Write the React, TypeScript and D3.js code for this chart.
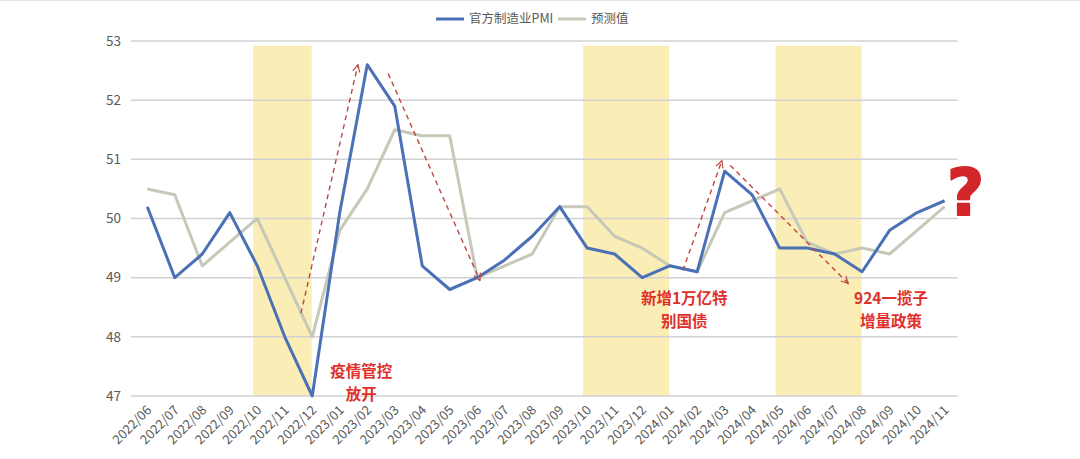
import React from "react";
import * as d3 from "d3";

const categories = [
  "2022/06", "2022/07", "2022/08", "2022/09", "2022/10", "2022/11", "2022/12",
  "2023/01", "2023/02", "2023/03", "2023/04", "2023/05", "2023/06", "2023/07",
  "2023/08", "2023/09", "2023/10", "2023/11", "2023/12", "2024/01", "2024/02",
  "2024/03", "2024/04", "2024/05", "2024/06", "2024/07", "2024/08", "2024/09",
  "2024/10", "2024/11",
];

// 官方制造业PMI
const pmi = [
  50.2, 49.0, 49.4, 50.1, 49.2, 48.0, 47.0,
  50.1, 52.6, 51.9, 49.2, 48.8, 49.0, 49.3,
  49.7, 50.2, 49.5, 49.4, 49.0, 49.2, 49.1,
  50.8, 50.4, 49.5, 49.5, 49.4, 49.1, 49.8,
  50.1, 50.3,
];

// 预测值
const forecast = [
  50.5, 50.4, 49.2, 49.6, 50.0, 49.0, 48.0,
  49.8, 50.5, 51.5, 51.4, 51.4, 49.0, 49.2,
  49.4, 50.2, 50.2, 49.7, 49.5, 49.2, 49.1,
  50.1, 50.3, 50.5, 49.6, 49.4, 49.5, 49.4,
  49.8, 50.2,
];

const yTicks = [47, 48, 49, 50, 51, 52, 53];

// highlighted periods (start month, end month)
const bandStarts = ["2022/10", "2023/10", "2024/05"];
const bandEnds = ["2022/12", "2024/01", "2024/08"];

// dashed trend arrows, in (month index, value)
const arrowFrom: [number, number][] = [[5.59, 48.4], [8.76, 52.45], [19.48, 49.12], [21.2, 50.9]];
const arrowTo: [number, number][] = [[7.66, 52.6], [12.1, 48.95], [20.9, 50.98], [25.5, 48.9]];

// red notes
const noteText = [["疫情管控", "放开"], ["新增1万亿特", "别国债"], ["924一揽子", "增量政策"]];
const noteAt: [number, number][] = [[7.78, 47.32], [19.53, 48.55], [27.05, 48.55]];

const seriesNames = ["官方制造业PMI", "预测值"];
const seriesColors = ["#4a70b6", "#c7c9b8"];

const W = 1080;
const H = 459;
const font = "'Noto Sans CJK SC', 'Noto Sans', sans-serif";

export default function App() {
  const x = d3.scalePoint<string>().domain(categories).range([147.3, 944.6]);
  const xi = d3.scaleLinear().domain([0, categories.length - 1]).range([147.3, 944.6]);
  const y = d3.scaleLinear().domain([47, 53]).range([396, 41]);
  const step = x.step();
  const gridLeft = x(categories[0])! - step * 0.6;
  const gridRight = x(categories[categories.length - 1])! + step * 0.48;

  const line = d3.line<number>()
    .x((_, i) => x(categories[i])!)
    .y(d => y(d));

  const lastX = x(categories[categories.length - 1])!;
  const lastY = y(pmi[pmi.length - 1]);

  return (
    <div style={{ position: "absolute", left: 0, top: 0 }}>
      <svg width={W} height={H} style={{ display: "block", background: "#fff" }} fontFamily={font}>
        <defs>
          <marker id="arr" viewBox="0 0 10 10" refX="9" refY="5" markerWidth="9" markerHeight="9"
            orient="auto" markerUnits="userSpaceOnUse">
            <path d="M1,1 L9,5 L1,9" fill="none" stroke="#c0463f" strokeWidth={1.3} />
          </marker>
        </defs>

        <line x1={0} x2={W} y1={0.5} y2={0.5} stroke="#e4e4e4" />

        {/* highlighted bands */}
        {bandStarts.map((s, i) => (
          <rect key={s}
            x={x(s)! - step * 0.15}
            y={y(52.92)}
            width={x(bandEnds[i])! - x(s)! + step * 0.13}
            height={y(47) - y(52.92)}
            fill="#fbedb6" />
        ))}

        {/* gridlines + y labels */}
        {yTicks.map(t => (
          <g key={t}>
            <line x1={gridLeft} x2={gridRight} y1={y(t)} y2={y(t)} stroke="#d2d2d2" strokeWidth={1.5} />
            <text x={121} y={y(t)} dy="0.35em" textAnchor="end" fontSize={13.5} fill="#595959">{t}</text>
          </g>
        ))}

        {/* x labels */}
        {categories.map(c => (
          <text key={c} transform={`translate(${x(c)! + 5},${411}) rotate(-45)`}
            textAnchor="end" fontSize={13} fill="#595959">{c}</text>
        ))}

        {/* series */}
        <path d={line(forecast)!} fill="none" stroke={seriesColors[1]} strokeWidth={3} strokeLinejoin="round" />
        <path d={line(pmi)!} fill="none" stroke={seriesColors[0]} strokeWidth={3} strokeLinejoin="round" />

        {/* trend arrows */}
        {arrowFrom.map((f, i) => (
          <line key={i}
            x1={xi(f[0])} y1={y(f[1])} x2={xi(arrowTo[i][0])} y2={y(arrowTo[i][1])}
            stroke="#c0463f" strokeWidth={1.4} strokeDasharray="5,4" markerEnd="url(#arr)" />
        ))}

        {/* notes */}
        {noteText.map((lines, i) =>
          lines.map((l, j) => (
            <text key={`${i}-${j}`} x={xi(noteAt[i][0])} y={y(noteAt[i][1]) + j * 22.6}
              textAnchor="middle" fontSize={15.5} fontWeight="bold" fill="#e0302b">{l}</text>
          ))
        )}

        <text x={lastX + 21} y={lastY + 14} textAnchor="middle" fontSize={64} fontWeight="bold"
          fontFamily="'DejaVu Sans', sans-serif" fill="#d3262b" stroke="#d3262b" strokeWidth={2}
          strokeLinejoin="round">?</text>

        {/* legend */}
        {seriesNames.map((n, i) => {
          const lx = 436 + i * 122;
          return (
            <g key={n}>
              <line x1={lx} x2={lx + 28} y1={19} y2={19} stroke={seriesColors[i]} strokeWidth={3} />
              <text x={lx + 33} y={19} dy="0.35em" fontSize={12.5} fill="#595959">{n}</text>
            </g>
          );
        })}
      </svg>
    </div>
  );
}
